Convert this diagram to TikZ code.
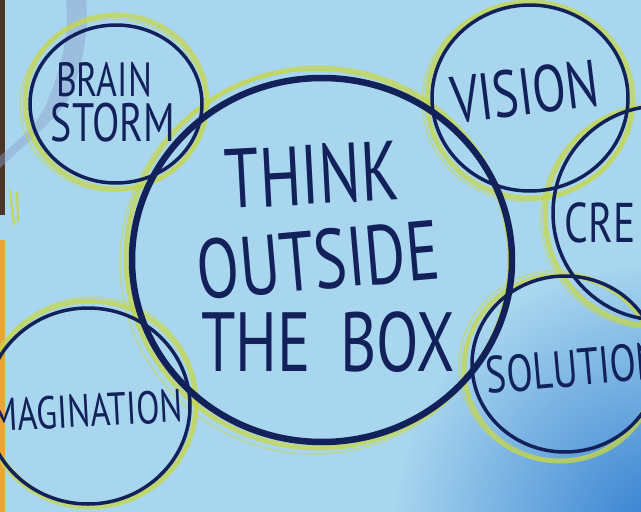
\documentclass[tikz,border=0pt]{standalone}
\usepackage{fontspec}
\newfontfamily\hand[FakeStretch=0.74]{PT Sans}
\definecolor{paper}{HTML}{A9D6EF}
\definecolor{paperdark}{HTML}{327ED0}
\definecolor{ink}{HTML}{12215A}
\definecolor{marker}{HTML}{C6D64A}
\definecolor{smudge}{HTML}{8C9FCB}
\definecolor{edgebrown}{HTML}{4A3526}
\definecolor{edgeorange}{HTML}{E9A53A}
\tikzset{
  ring/.style={draw=ink,line width=3.5pt},
  bigring/.style={draw=ink,line width=6.5pt},
  glow/.style={draw=marker,line width=5pt,opacity=0.75},
  glowthin/.style={draw=marker,line width=1.5pt,opacity=0.55},
  word/.style={text=ink,font=\hand\fontsize{#1}{#1}\selectfont,inner sep=0pt},
}
\begin{document}
\begin{tikzpicture}[x=1pt,y=-1pt]
\useasboundingbox (0,0) rectangle (641,512);
\clip (0,0) rectangle (641,512);
% paper
\fill[paper] (0,0) rectangle (641,512);
\shade[inner color=paperdark,outer color=paper] (660,530) circle (270);
\fill[edgebrown] (0,0) rectangle (5,215);
\fill[edgeorange] (0,240) rectangle (5,512);
\fill[smudge,opacity=.45] (66,0) -- (86,0) .. controls (90,30) and (82,70) .. (68,100)
  .. controls (55,120) and (30,140) .. (0,168) -- (0,156)
  .. controls (25,135) and (42,118) .. (48,100) .. controls (60,70) and (70,35) .. (66,0) -- cycle;
\draw[marker,line width=2pt] (10,190) -- (14,225) (17,192) -- (18,222);
% centres
\coordinate (think) at (322,260);
\coordinate (brain) at (116,104);
\coordinate (vision) at (530,98);
\coordinate (cre) at (660,213);
\coordinate (solution) at (565,364);
\coordinate (imagination) at (88,406);
% marker rings
\draw[glow] ([shift={(-4,-2)}]think) ellipse (192 and 190);
\draw[glowthin] ([shift={(-8,2)}]think) ellipse (194 and 192);
\draw[glow] ([shift={(0,-2)}]brain) ellipse (91 and 87);
\draw[glowthin] ([shift={(-3,1)}]brain) ellipse (93 and 86);
\draw[glow] ([shift={(0,2)}]vision) ellipse (103 and 98);
\draw[glowthin] ([shift={(-4,4)}]vision) ellipse (104 and 99);
\draw[glow] ([shift={(-5,3)}]cre) circle (110);
\draw[glowthin] ([shift={(-9,5)}]cre) circle (110);
\draw[glow] ([shift={(-5,4)}]solution) ellipse (96 and 93);
\draw[glowthin] ([shift={(-9,2)}]solution) ellipse (97 and 95);
\draw[glow] ([shift={(2,-2)}]imagination) ellipse (106 and 103);
\draw[glowthin] ([shift={(4,-5)}]imagination) ellipse (105 and 104);
% ink rings
\draw[ring] (brain) ellipse (86 and 79);
\draw[ring] (vision) ellipse (98 and 93);
\draw[ring] (cre) circle (107);
\draw[ring] (solution) ellipse (93 and 88);
\draw[ring] (imagination) ellipse (102 and 98);
\draw[bigring] (think) ellipse (190 and 182);
% words
\node[word=48] (brainw) at (104,80) {BRAIN};
\node[word=54] (stormw) at (113,123) {STORM};
\node[word=66,rotate=7] (visionw) at (525,92) {VISION};
\node[word=56] (crew) at (600,223) {CRE};
\node[word=52,rotate=5] (solutionw) at (574,368) {SOLUTION};
\node[word=46,rotate=3] (imaginationw) at (82,411) {IMAGINATION};
\node[word=84,rotate=3] (thinkw) at (312,175) {THINK};
\node[word=84,rotate=5] (outsidew) at (318,260) {OUTSIDE};
\node[word=84] (boxw) at (328,342) {THE\hspace{.35em}BOX};
\end{tikzpicture}
\end{document}
